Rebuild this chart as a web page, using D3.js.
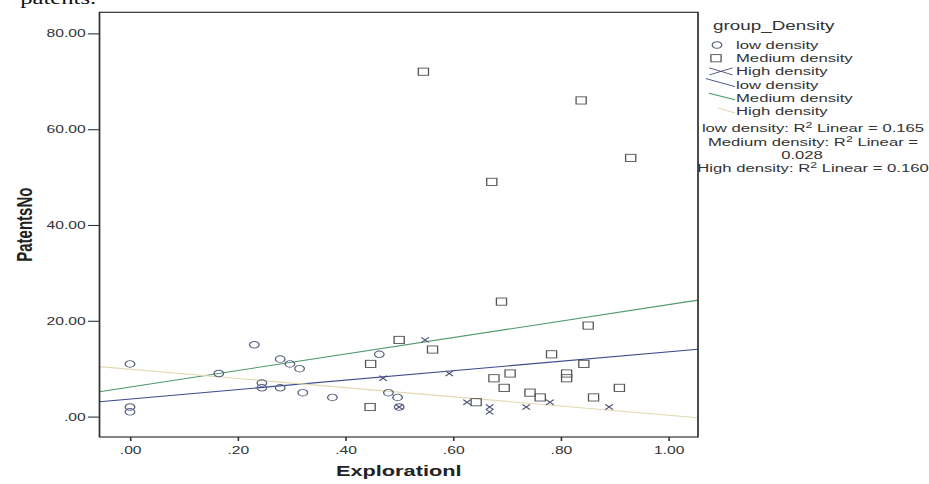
<!DOCTYPE html>
<html>
<head>
<meta charset="utf-8">
<script src="https://cdn.jsdelivr.net/npm/d3@7"></script>
<style>
body { margin: 0; background: #fff; }
svg text { font-family: Arial, "Liberation Sans", sans-serif; }
</style>
</head>
<body>
<div id="chart"></div>
<script>
// values
var lowX = [0, 0, 0, 0.165, 0.231, 0.245, 0.245, 0.279, 0.279, 0.297, 0.315, 0.321, 0.376, 0.463, 0.48, 0.497, 0.5];
var lowY = [11, 2, 1, 9, 15, 7, 6, 12, 6, 11, 10, 5, 4, 13, 5, 4, 2];

var medX = [0.545, 0.838, 0.93, 0.672, 0.69, 0.851, 0.5, 0.562, 0.783, 0.843, 0.447, 0.706, 0.811, 0.811, 0.676, 0.695, 0.909, 0.743, 0.762, 0.861, 0.643, 0.446];
var medY = [72, 66, 54, 49, 24, 19, 16, 14, 13, 11, 11, 9, 9, 8, 8, 6, 6, 5, 4, 4, 3, 2];

var highX = [0.47, 0.548, 0.593, 0.626, 0.668, 0.668, 0.736, 0.78, 0.89, 0.5];
var highY = [8, 16, 9, 3, 2, 1, 2, 3, 2, 2];

// fit lines (intercept, slope) and their R2
var groups = ["low density", "Medium density", "High density"];
var fitIntercept = [3.67, 6.17, 9.88];
var fitSlope = [9.84, 17.2, -9.58];
var fitR2 = ["0.165", "0.028", "0.160"];

var xTicks = [0, 0.2, 0.4, 0.6, 0.8, 1];
var yTicks = [0, 20, 40, 60, 80];

var width = 929, height = 484;
// the source picture is stretched sideways, so draw in a narrow box and stretch it
var SX = 1.45;
var innerW = width / SX;

var lineColors = ["#3c4a8e", "#4f9a6e", "#e3d9b2"];

var svg = d3.select("#chart").append("svg")
    .attr("width", width)
    .attr("height", height)
    .attr("viewBox", "0 0 " + innerW + " " + height)
    .attr("preserveAspectRatio", "none");

// plot frame (screen px / SX for x)
var pLeft = 99.5 / SX, pRight = 698 / SX, pTop = 12.3, pBottom = 437;

var x = d3.scaleLinear().domain([-0.0566, 1.055]).range([pLeft, pRight]);
var y = d3.scaleLinear().domain([-4.26, 84.4]).range([pBottom, pTop]);

function fmt(v) {
    var s = v.toFixed(2);
    return s.indexOf("0.") === 0 ? s.slice(1) : s;
}

// cut-off text line above the chart
svg.append("text")
    .attr("x", 14).attr("y", 4)
    .style("font-family", "'Liberation Serif', 'DejaVu Serif', serif")
    .attr("font-size", 17)
    .attr("fill", "#111")
    .text("patents.");

// axes
var xAxis = svg.append("g")
    .attr("transform", "translate(0," + pBottom + ")")
    .call(d3.axisBottom(x).tickValues(xTicks).tickSize(4).tickPadding(5).tickFormat(fmt));
var yAxis = svg.append("g")
    .attr("transform", "translate(" + pLeft + ",0)")
    .call(d3.axisLeft(y).tickValues(yTicks).tickSize(8).tickPadding(1.5).tickFormat(fmt));

[xAxis, yAxis].forEach(function (g) {
    g.select(".domain").remove();
    g.attr("font-family", "Arial, 'Liberation Sans', sans-serif").attr("font-size", 10.8);
    g.selectAll("line").attr("stroke", "#333").attr("stroke-width", 1.1);
    g.selectAll("text").attr("fill", "#333");
});

// fit lines, clipped to the plot
svg.append("clipPath").attr("id", "plotClip")
    .append("rect")
    .attr("x", pLeft).attr("y", pTop)
    .attr("width", pRight - pLeft).attr("height", pBottom - pTop);

var xd = x.domain();
svg.append("g")
    .attr("clip-path", "url(#plotClip)")
    .selectAll("line")
    .data(groups)
    .enter()
    .append("line")
    .attr("x1", x(xd[0]))
    .attr("x2", x(xd[1]))
    .attr("y1", function (d, i) { return y(fitIntercept[i] + fitSlope[i] * xd[0]); })
    .attr("y2", function (d, i) { return y(fitIntercept[i] + fitSlope[i] * xd[1]); })
    .attr("stroke", function (d, i) { return lineColors[i]; })
    .attr("stroke-width", 1.1);

// points
function pts(xs, ys) {
    return xs.map(function (v, i) { return { x: v, y: ys[i] }; });
}

var markers = svg.append("g").attr("fill", "none").attr("stroke-width", 0.9);

markers.selectAll(".low")
    .data(pts(lowX, lowY))
    .enter()
    .append("circle")
    .attr("class", "low")
    .attr("cx", function (d) { return x(d.x); })
    .attr("cy", function (d) { return y(d.y); })
    .attr("r", 3.3)
    .attr("stroke", "#58627f");

markers.selectAll(".med")
    .data(pts(medX, medY))
    .enter()
    .append("rect")
    .attr("class", "med")
    .attr("x", function (d) { return x(d.x) - 3.5; })
    .attr("y", function (d) { return y(d.y) - 3.6; })
    .attr("width", 7)
    .attr("height", 7.2)
    .attr("stroke", "#555");

markers.selectAll(".high")
    .data(pts(highX, highY))
    .enter()
    .append("path")
    .attr("class", "high")
    .attr("transform", function (d) { return "translate(" + x(d.x) + "," + y(d.y) + ")"; })
    .attr("d", "M-2.6,-2.6L2.6,2.6M-2.6,2.6L2.6,-2.6")
    .attr("stroke", "#4b5275");

// frame
svg.append("rect")
    .attr("x", pLeft).attr("y", pTop)
    .attr("width", pRight - pLeft).attr("height", pBottom - pTop)
    .attr("fill", "none")
    .attr("stroke", "#333")
    .attr("stroke-width", 1.2);

// axis titles
svg.append("text")
    .attr("x", (pLeft + pRight) / 2)
    .attr("y", 476)
    .attr("text-anchor", "middle")
    .attr("font-size", 15)
    .attr("font-weight", "bold")
    .attr("fill", "#222")
    .text("Explorationl");

svg.append("text")
    .attr("transform", "translate(" + (32 / SX) + "," + ((pTop + pBottom) / 2) + ") rotate(-90)")
    .attr("text-anchor", "middle")
    .attr("font-size", 15)
    .attr("font-weight", "bold")
    .attr("fill", "#222")
    .text("PatentsNo");

// legend
var legend = svg.append("g").attr("fill", "#333");

legend.append("text")
    .attr("x", 713 / SX).attr("y", 30)
    .attr("font-size", 13)
    .text("group_Density");

var rowY = function (i) { return 45 + i * 13.2; };
var legendItems = groups.concat(groups);

legend.selectAll(".item")
    .data(legendItems)
    .enter()
    .append("text")
    .attr("class", "item")
    .attr("x", 736 / SX)
    .attr("y", function (d, i) { return rowY(i) + 4; })
    .attr("font-size", 11.5)
    .text(function (d) { return d; });

var sym = svg.append("g").attr("fill", "none").attr("stroke-width", 0.9);
sym.append("circle")
    .attr("cx", 717 / SX).attr("cy", rowY(0))
    .attr("r", 3.3).attr("stroke", "#58627f");
sym.append("rect")
    .attr("x", 716 / SX - 3.5).attr("y", rowY(1) - 3.6)
    .attr("width", 7).attr("height", 7.2).attr("stroke", "#555");
sym.append("path")
    .attr("transform", "translate(" + (721 / SX) + "," + rowY(2) + ")")
    .attr("d", "M-8,-3.5L8,3.5M-8,3.5L8,-3.5")
    .attr("stroke", "#4b5275");

// slanted line swatches
var swatchX0 = [706, 709, 718];
sym.selectAll(".sw")
    .data(groups)
    .enter()
    .append("line")
    .attr("class", "sw")
    .attr("x1", function (d, i) { return swatchX0[i] / SX; })
    .attr("x2", 735 / SX)
    .attr("y1", function (d, i) { return rowY(i + 3) - 6 + i * 1.5; })
    .attr("y2", function (d, i) { return rowY(i + 3) + 2; })
    .attr("stroke", function (d, i) { return lineColors[i]; })
    .attr("stroke-width", 1);

// R2 notes
var noteLines = [
    { pre: "low density: R", post: " Linear = " + fitR2[0] },
    { pre: "Medium density: R", post: " Linear =" },
    { pre: "", post: fitR2[1] },
    { pre: "High density: R", post: " Linear = " + fitR2[2] }
];
var noteY = [132, 146, 159, 172];

noteLines.forEach(function (n, i) {
    var t = legend.append("text")
        .attr("x", (i === 2 ? 802 : 813) / SX)
        .attr("y", noteY[i])
        .attr("text-anchor", "middle")
        .attr("font-size", 11.5);
    if (n.pre) {
        t.append("tspan").text(n.pre);
        t.append("tspan").attr("dy", -4).attr("font-size", 8.5).text("2");
        t.append("tspan").attr("dy", 4).text(n.post);
    } else {
        t.text(n.post);
    }
});
</script>
</body>
</html>
